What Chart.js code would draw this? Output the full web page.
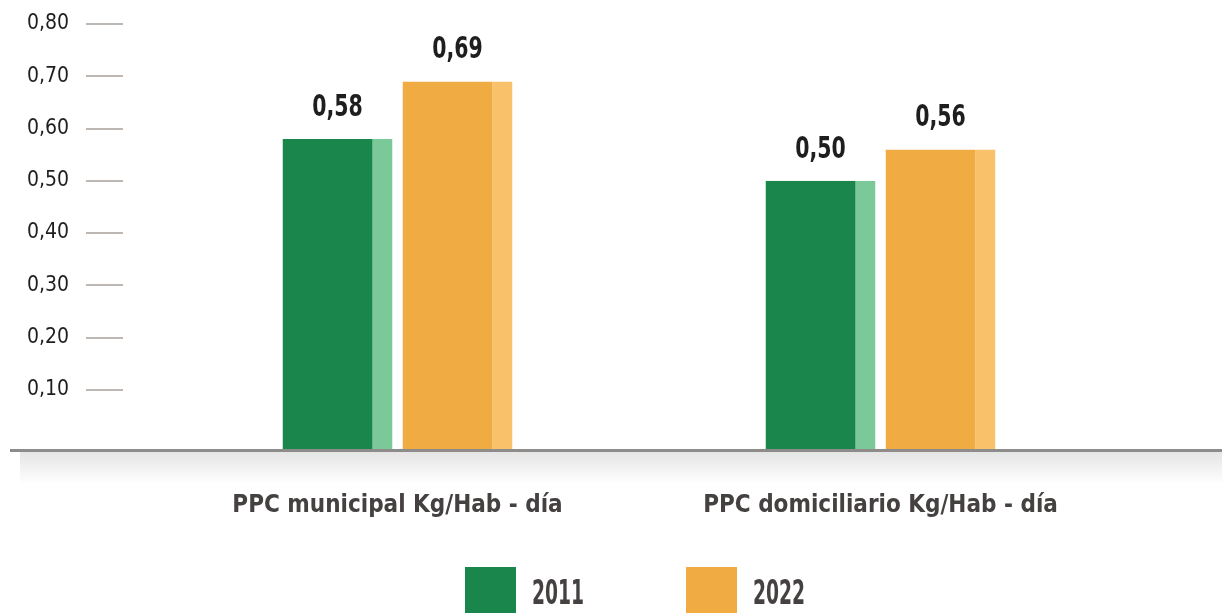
<!DOCTYPE html>
<html>
<head>
<meta charset="utf-8">
<script src="https://cdn.jsdelivr.net/npm/chart.js@4"></script>
<style>
  html, body { margin: 0; padding: 0; background: #fff; overflow: hidden; }
  #wrap { width: 1222px; height: 613px; position: relative; }
</style>
</head>
<body>
<div id="wrap"><canvas id="myChart"></canvas></div>
<script>
const categories = ['PPC municipal Kg/Hab - día', 'PPC domiciliario Kg/Hab - día']
const seriesNames = ['2011', '2022']
const values2011 = [0.58, 0.50]
const values2022 = [0.69, 0.56]
const yTicks = [0.1, 0.2, 0.3, 0.4, 0.5, 0.6, 0.7, 0.8]

const FONT = "'Liberation Sans Narrow', 'DejaVu Sans Condensed', 'Roboto', sans-serif"
const Y_MIN = -0.0153 // bars run a little below zero, down to the grey baseline
const fmt = v => v.toFixed(2).replace('.', ',')

// draws text squeezed horizontally, to mimic the narrow display font of the original
function narrowText (ctx, text, x, y, sx, align) {
  ctx.save()
  ctx.translate(x, y)
  ctx.scale(sx, 1)
  ctx.textAlign = align
  ctx.fillText(text, 0, 0)
  ctx.restore()
}

// baseline, its soft shadow, short y tick marks, value labels and the legend
const decorPlugin = {
  id: 'decor',
  beforeDatasetsDraw (chart) {
    const { ctx, chartArea } = chart
    const yScale = chart.scales.y
    ctx.save()
    const base = chartArea.bottom
    const grad = ctx.createLinearGradient(0, base, 0, base + 34)
    grad.addColorStop(0, 'rgba(0,0,0,0.11)')
    grad.addColorStop(1, 'rgba(0,0,0,0)')
    ctx.fillStyle = grad
    ctx.fillRect(20, base, chart.width - 20, 34)
    ctx.strokeStyle = '#bdb8b3'
    ctx.lineWidth = 2
    yTicks.forEach(v => {
      const y = Math.round(yScale.getPixelForValue(v))
      ctx.beginPath()
      ctx.moveTo(86, y)
      ctx.lineTo(123, y)
      ctx.stroke()
    })
    ctx.restore()
  },
  afterDatasetsDraw (chart) {
    const { ctx, chartArea } = chart
    ctx.save()
    ctx.fillStyle = '#8e8c8b'
    ctx.fillRect(10, chartArea.bottom - 1, chart.width - 10, 3)

    // value labels above bars
    ctx.font = 'bold 30px ' + FONT
    ctx.fillStyle = '#1e1e1e'
    ctx.textBaseline = 'alphabetic'
    chart.data.datasets.forEach((ds, i) => {
      chart.getDatasetMeta(i).data.forEach((bar, j) => {
        narrowText(ctx, fmt(ds.data[j]), bar.x, bar.y - 23, 0.76, 'center')
      })
    })

    // legend
    const cx = (chartArea.left + chartArea.right) / 2
    const startX = Math.round(cx - 174)
    ctx.font = 'bold 33px ' + FONT
    chart.data.datasets.forEach((ds, i) => {
      const x = startX + i * 221
      ctx.fillStyle = ds.backgroundColor
      ctx.fillRect(x, 567, 51, 46)
      ctx.fillStyle = '#454140'
      narrowText(ctx, ds.label, x + 67, 604, 0.63, 'left')
    })
    ctx.restore()
  }
}

const config = {
  type: 'bar',
  data: {
    labels: categories,
    datasets: [
      {
        label: seriesNames[0],
        data: values2011,
        base: Y_MIN,
        backgroundColor: '#1b864c',
        borderColor: '#7bc898',
        borderWidth: { top: 0, left: 0, bottom: 0, right: 20 },
        borderSkipped: false
      },
      {
        label: seriesNames[1],
        data: values2022,
        base: Y_MIN,
        backgroundColor: '#f0ac43',
        borderColor: '#f9c26a',
        borderWidth: { top: 0, left: 0, bottom: 0, right: 20 },
        borderSkipped: false
      }
    ]
  },
  options: {
    responsive: true,
    maintainAspectRatio: false,
    animation: false,
    categoryPercentage: 240 / 483,
    barPercentage: 110 / 120,
    layout: { padding: { top: 24, right: 100, left: 0, bottom: 0 } },
    scales: {
      x: {
        grid: { display: false, drawTicks: false },
        border: { display: false },
        ticks: { color: '#454140', font: { family: FONT, size: 24, weight: 'bold' }, padding: 41 },
        afterFit: s => { s.height = 163 }
      },
      y: {
        min: Y_MIN,
        max: 0.8,
        grid: { display: false, drawTicks: false },
        border: { display: false },
        ticks: {
          color: '#1e1e1e',
          padding: 87,
          font: { family: FONT, size: 21 },
          callback: v => fmt(v)
        },
        afterBuildTicks: s => { s.ticks = yTicks.map(v => ({ value: v })) },
        afterFit: s => {
          s.width = 156
          s.paddingTop = 0
          s.paddingBottom = 0
        }
      }
    },
    plugins: {
      tooltip: { enabled: false },
      legend: { display: false }
    }
  },
  plugins: [decorPlugin]
}

new Chart(document.getElementById('myChart'), config)
</script>
</body>
</html>
